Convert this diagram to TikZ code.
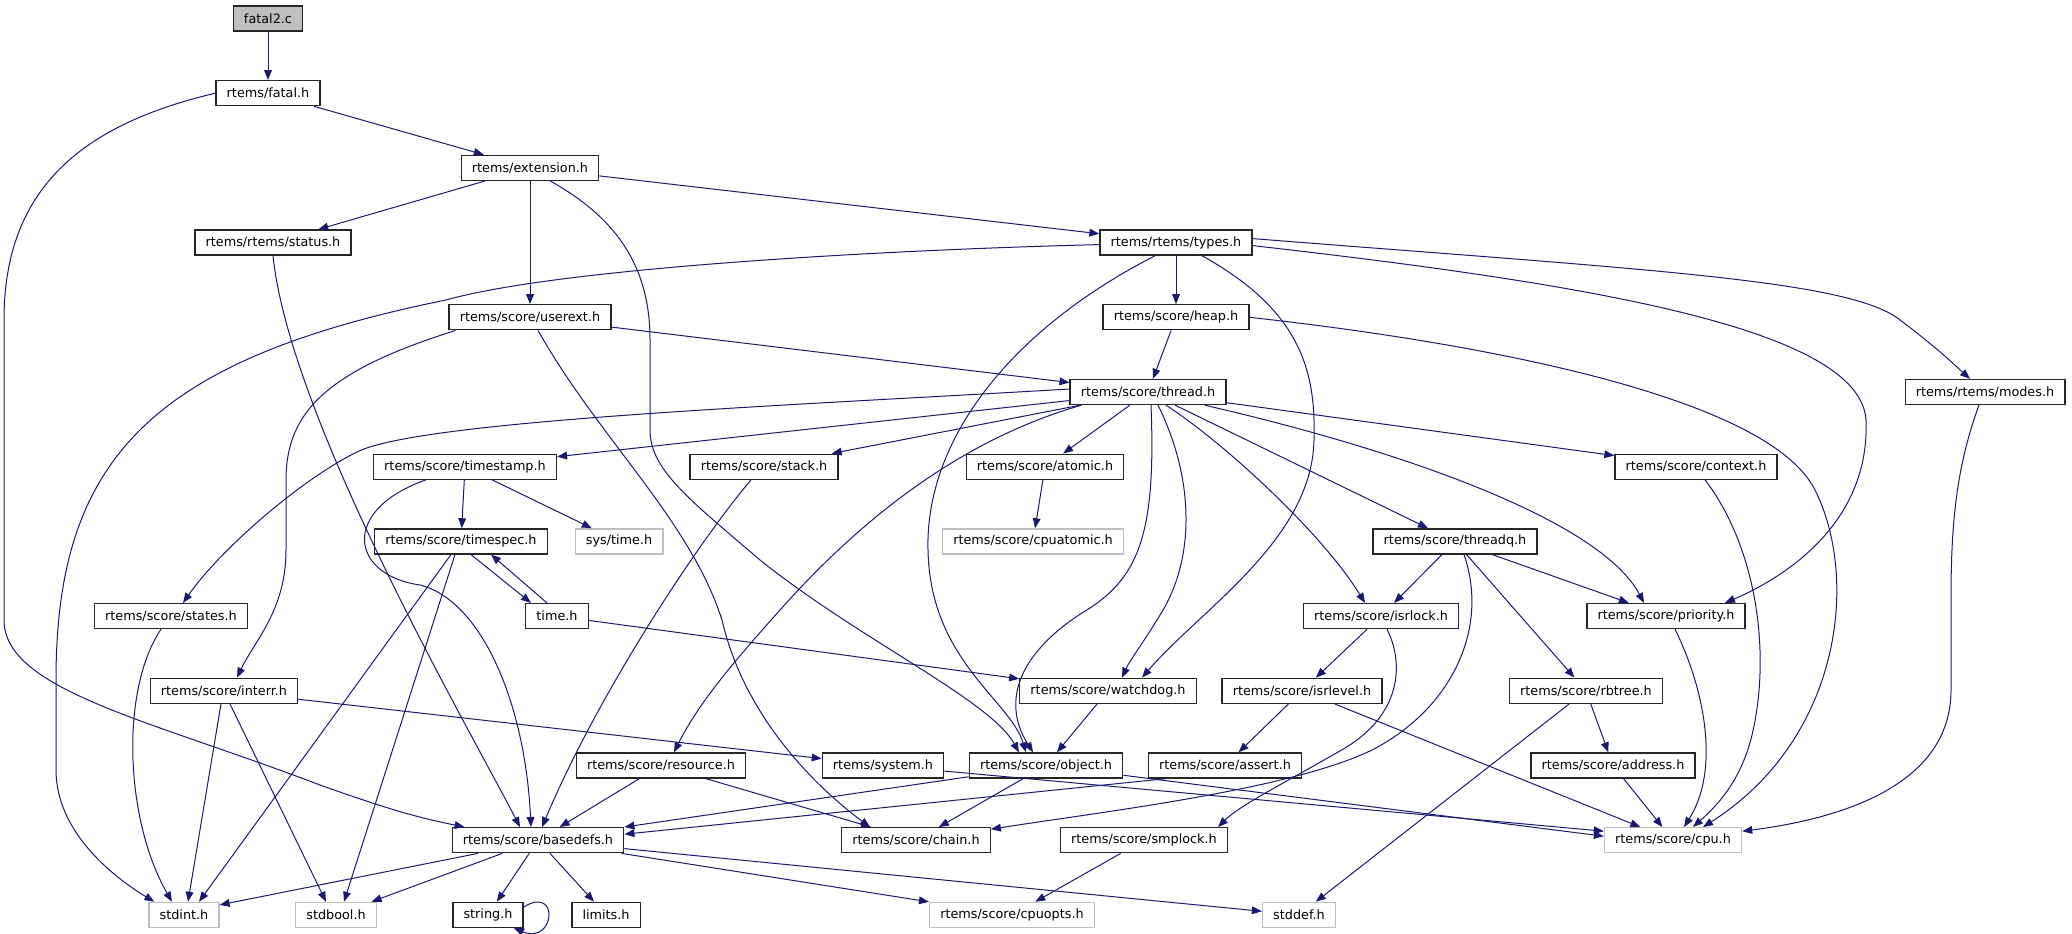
\documentclass[tikz,border=0pt]{standalone}
\usepackage{fontspec}
\setmainfont{DejaVu Sans}
\usetikzlibrary{arrows.meta,calc}
\definecolor{edgeblue}{HTML}{191970}
\definecolor{srcgrey}{HTML}{BFBFBF}
\tikzset{
  hfile/.style={draw=black!85, fill=white, line width=1pt, font=\fontsize{9.6}{11.5}\selectfont,
    inner xsep=8pt, inner ysep=0pt, minimum height=18.75pt},
  extfile/.style={hfile, draw=srcgrey},
  srcfile/.style={hfile, fill=srcgrey},
  dep/.style={draw=edgeblue, line width=0.75pt, -{Triangle[length=7.5pt,width=5.8pt]}}
}
\begin{document}
\begin{tikzpicture}[x=0.75pt,y=-0.75pt]
\useasboundingbox (0,0) rectangle (2072,934);
% files
\node[srcfile] (fatal2) at (268,18.5) {fatal2.c};
\node[hfile] (fatal) at (268,93.2) {rtems/fatal.h};
\node[hfile] (extension) at (530,167.9) {rtems/extension.h};
\node[hfile] (status) at (273,242.6) {rtems/rtems/status.h};
\node[hfile] (types) at (1176,242.6) {rtems/rtems/types.h};
\node[hfile] (userext) at (530,317.3) {rtems/score/userext.h};
\node[hfile] (heap) at (1176,317.3) {rtems/score/heap.h};
\node[hfile] (thread) at (1148,392) {rtems/score/thread.h};
\node[hfile] (modes) at (1985,392) {rtems/rtems/modes.h};
\node[hfile] (timestamp) at (465,466.7) {rtems/score/timestamp.h};
\node[hfile] (stack) at (764,466.7) {rtems/score/stack.h};
\node[hfile] (atomic) at (1045,466.7) {rtems/score/atomic.h};
\node[hfile] (context) at (1696,466.7) {rtems/score/context.h};
\node[hfile] (timespec) at (461,541.4) {rtems/score/timespec.h};
\node[extfile] (systime) at (619,541.4) {sys/time.h};
\node[extfile] (cpuatomic) at (1033,541.4) {rtems/score/cpuatomic.h};
\node[hfile] (threadq) at (1455,541.4) {rtems/score/threadq.h};
\node[hfile] (states) at (171,616.1) {rtems/score/states.h};
\node[hfile] (time) at (557,616.1) {time.h};
\node[hfile] (isrlock) at (1381,616.1) {rtems/score/isrlock.h};
\node[hfile] (priority) at (1666,616.1) {rtems/score/priority.h};
\node[hfile] (interr) at (224,690.8) {rtems/score/interr.h};
\node[hfile] (watchdog) at (1108,690.8) {rtems/score/watchdog.h};
\node[hfile] (isrlevel) at (1302,690.8) {rtems/score/isrlevel.h};
\node[hfile] (rbtree) at (1586,690.8) {rtems/score/rbtree.h};
\node[hfile] (resource) at (661,765.5) {rtems/score/resource.h};
\node[hfile] (system) at (883,765.5) {rtems/system.h};
\node[hfile] (object) at (1046,765.5) {rtems/score/object.h};
\node[hfile] (assert) at (1225,765.5) {rtems/score/assert.h};
\node[hfile] (address) at (1613,765.5) {rtems/score/address.h};
\node[hfile] (basedefs) at (538,840.2) {rtems/score/basedefs.h};
\node[hfile] (chain) at (916,840.2) {rtems/score/chain.h};
\node[hfile] (smplock) at (1144,840.2) {rtems/score/smplock.h};
\node[extfile] (cpu) at (1673,840.2) {rtems/score/cpu.h};
\node[extfile] (stdint) at (184,914.9) {stdint.h};
\node[extfile] (stdbool) at (336,914.9) {stdbool.h};
\node[hfile] (string) at (488,914.9) {string.h};
\node[hfile] (limits) at (606,914.9) {limits.h};
\node[extfile] (cpuopts) at (1012,914.9) {rtems/score/cpuopts.h};
\node[extfile] (stddef) at (1299,914.9) {stddef.h};
% includes
\draw[dep] (fatal2) -- (fatal);
\draw[dep] (fatal) -- (extension);
\draw[dep] (fatal.west) .. controls (80,125) and (4,190) .. (4,320) -- (4,620) .. controls (4,690) and (150,720) .. (320,785) .. controls (390,810) and (420,818) .. ($(basedefs.north west)+(13,0)$);
\draw[dep] (extension) -- (status);
\draw[dep] (extension) -- (userext);
\draw[dep] (extension) -- (types);
\draw[dep] ($(extension.south east)+(-49,0)$) .. controls (620,220) and (650,270) .. (650,340) -- (650,430) .. controls (650,470) and (690,500) .. (760,560) .. controls (860,640) and (990,700) .. ($(object.north)+(-27,0)$);
\draw[dep] (status.south) .. controls (290,420) and (470,730) .. ($(basedefs.north)+(-18,0)$);
\draw[dep] ($(types.west)+(0,2)$) .. controls (880,250) and (560,268) .. (446,300) .. controls (150,360) and (56,460) .. (56,680) -- (56,770) .. controls (56,830) and (110,875) .. ($(stdint.north west)+(6,0)$);
\draw[dep] (types) -- (heap);
\draw[dep] ($(types.south)+(-21,0)$) .. controls (1010,330) and (925,440) .. (928,550) .. controls (930,660) and (1010,700) .. ($(object.north)+(-20,0)$);
\draw[dep] ($(types.south)+(26,0)$) .. controls (1300,310) and (1316,370) .. (1314,440) .. controls (1312,540) and (1200,610) .. ($(watchdog.north)+(34,0)$);
\draw[dep] ($(types.east)+(0,-4)$) .. controls (1650,270) and (1850,280) .. (1900,320) .. controls (1940,350) and (1960,370) .. ($(modes.north)+(-15,0)$);
\draw[dep] ($(types.east)+(0,3)$) .. controls (1600,285) and (1860,330) .. (1866,420) .. controls (1870,520) and (1790,575) .. ($(priority.north)+(59,0)$);
\draw[dep] (heap) -- (thread);
\draw[dep] (heap.east) .. controls (1500,345) and (1770,400) .. (1815,490) .. controls (1860,580) and (1840,740) .. ($(cpu.north)+(30,0)$);
\draw[dep] (userext) -- (thread);
\draw[dep] ($(userext.south west)+(7,0)$) .. controls (330,370) and (286,410) .. (286,480) -- (286,550) .. controls (286,610) and (255,640) .. ($(interr.north)+(13,0)$);
\draw[dep] ($(userext.south)+(8,0)$) .. controls (600,440) and (690,520) .. (722,620) .. controls (745,720) and (820,790) .. ($(chain.north)+(-46,0)$);
\draw[dep] (thread) -- (timestamp);
\draw[dep] ($(thread.west)+(0,-3)$) .. controls (800,405) and (420,420) .. (357,452) .. controls (300,480) and (220,550) .. ($(states.north)+(12,0)$);
\draw[dep] (thread) -- (stack);
\draw[dep] (thread) -- (atomic);
\draw[dep] ($(thread.south west)+(12,0)$) .. controls (960,440) and (860,520) .. (780,610) .. controls (740,655) and (700,700) .. ($(resource.north)+(13,0)$);
\draw[dep] ($(thread.south)+(3,0)$) .. controls (1156,530) and (1140,575) .. (1090,608) .. controls (1020,650) and (1000,700) .. ($(object.north)+(-13,0)$);
\draw[dep] ($(thread.south)+(10,0)$) .. controls (1195,480) and (1195,560) .. (1160,615) .. controls (1145,640) and (1130,660) .. ($(watchdog.north)+(14,0)$);
\draw[dep] ($(thread.south)+(18,0)$) .. controls (1220,440) and (1320,530) .. ($(isrlock.north)+(-16,0)$);
\draw[dep] (thread) -- (threadq);
\draw[dep] ($(thread.south east)+(-22,0)$) .. controls (1400,450) and (1600,520) .. ($(priority.north)+(-22,0)$);
\draw[dep] (thread) -- (context);
\draw[dep] (timestamp) -- (timespec);
\draw[dep] (timestamp) -- (systime);
\draw[dep] ($(timestamp.south)+(-39,0)$) .. controls (340,510) and (350,575) .. (420,585) .. controls (480,600) and (525,700) .. ($(basedefs.north)+(-7,0)$);
\draw[dep] ($(timespec.south)+(10,0)$) -- ($(time.north)+(-26,0)$);
\draw[dep] ($(time.north)+(-10,0)$) -- ($(timespec.south)+(30,0)$);
\draw[dep] ($(timespec.south)+(-10,0)$) -- ($(stdint.north)+(15,0)$);
\draw[dep] ($(timespec.south)+(-6,0)$) -- ($(stdbool.north)+(8,0)$);
\draw[dep] (time) -- (watchdog);
\draw[dep] ($(stack.south)+(-13,0)$) .. controls (700,540) and (600,690) .. ($(basedefs.north)+(4,0)$);
\draw[dep] (atomic) -- (cpuatomic);
\draw[dep] ($(context.south)+(9,0)$) .. controls (1755,545) and (1772,650) .. (1752,735) .. controls (1740,785) and (1712,810) .. ($(cpu.north)+(20,0)$);
\draw[dep] (threadq) -- (isrlock);
\draw[dep] (threadq) -- (priority);
\draw[dep] (threadq) -- (rbtree);
\draw[dep] ($(threadq.south)+(9,0)$) .. controls (1490,630) and (1450,710) .. (1372,750) .. controls (1290,790) and (1100,812) .. ($(chain.east)+(0,-11)$);
\draw[dep] (isrlock) -- (isrlevel);
\draw[dep] ($(isrlock.south)+(6,0)$) .. controls (1405,665) and (1400,715) .. (1345,748) .. controls (1290,780) and (1240,805) .. ($(smplock.north)+(74,0)$);
\draw[dep] ($(priority.south)+(9,0)$) .. controls (1705,690) and (1720,770) .. ($(cpu.north)+(11,0)$);
\draw[dep] ($(states.south)+(-10,0)$) .. controls (120,690) and (125,820) .. ($(stdint.north)+(-12,0)$);
\draw[dep] ($(interr.south)+(-3,0)$) -- ($(stdint.north)+(4,0)$);
\draw[dep] ($(interr.south)+(6,0)$) -- ($(stdbool.north)+(-10,0)$);
\draw[dep] (interr) -- (system);
\draw[dep] (watchdog) -- (object);
\draw[dep] (isrlevel) -- (assert);
\draw[dep] (isrlevel) -- (cpu);
\draw[dep] (rbtree) -- (address);
\draw[dep] (rbtree) -- (stddef);
\draw[dep] (address) -- (cpu);
\draw[dep] (resource) -- (basedefs);
\draw[dep] (resource) -- (chain);
\draw[dep] (system) -- ($(cpu.west)+(0,-9)$);
\draw[dep] (object) -- ($(cpu.west)+(0,-4)$);
\draw[dep] (object) -- (basedefs.north east);
\draw[dep] ($(assert.south west)+(18,0)$) -- ($(basedefs.east)+(0,-6)$);
\draw[dep] (object) -- (chain);
\draw[dep] ($(basedefs.south)+(-60,0)$) -- ($(stdint.east)+(0,-10)$);
\draw[dep] (basedefs) -- (stdbool);
\draw[dep] (basedefs) -- (string);
\draw[dep] (basedefs) -- (limits);
\draw[dep] (basedefs) -- (cpuopts);
\draw[dep] (basedefs) -- (stddef);
\draw[dep] ($(string.east)+(0,-8)$) .. controls (560,885) and (555,945) .. ($(string.south east)+(-10,0)$);
\draw[dep] (smplock) -- (cpuopts);
\draw[dep] ($(modes.south)+(-6,0)$) .. controls (1955,470) and (1951,530) .. (1951,600) -- (1951,690) .. controls (1951,790) and (1830,820) .. ($(cpu.east)+(0,-9)$);
\end{tikzpicture}
\end{document}
